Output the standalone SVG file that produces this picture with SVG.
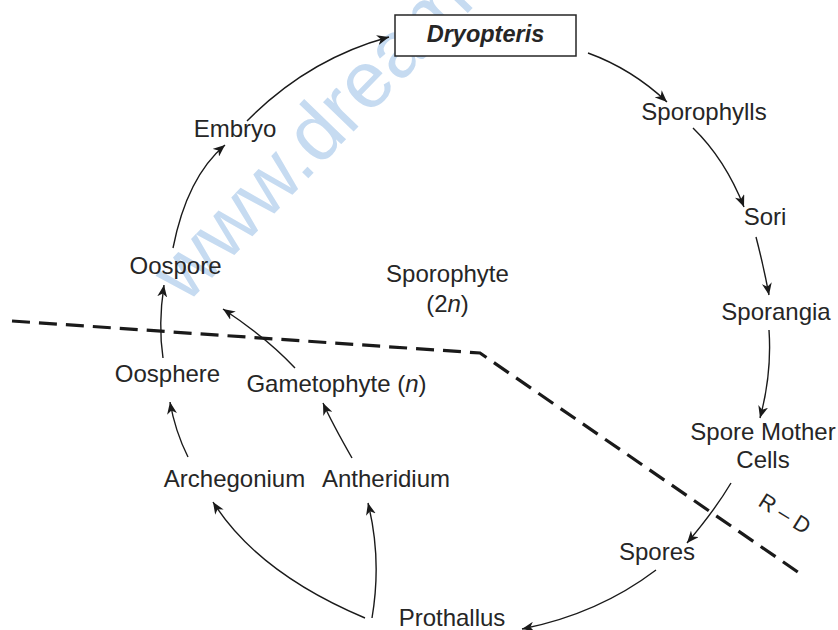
<svg xmlns="http://www.w3.org/2000/svg" width="838" height="630" viewBox="0 0 838 630">
<style>
.lbl{font-family:"Liberation Sans",Arial,sans-serif;font-size:24px;fill:#262626;text-anchor:middle}
.conn{fill:none;stroke:#1a1a1a;stroke-width:1.4;marker-end:url(#ah)}
.dash{fill:none;stroke:#1a1a1a;stroke-width:3.2;stroke-dasharray:18 9}
.wm{font-family:"Liberation Sans",Arial,sans-serif;font-size:80px;fill:#c6dbf1}
</style>
<defs>
<marker id="ah" markerUnits="userSpaceOnUse" markerWidth="12" markerHeight="10" viewBox="0 0 12 10" refX="12" refY="5" orient="auto">
<path d="M0,0 L12,5 L0,10 L3.5,5 z" fill="#1a1a1a"/>
</marker>
</defs>
<rect width="838" height="630" fill="#ffffff"/>
<text class="wm" x="186" y="305" transform="rotate(-46 186 305)">www.dream</text>

<g id="boundary">
<path class="dash" d="M12,321 L480,353 L805,577"/>
</g>

<g id="connectors">
<path class="conn" d="M247,121 Q308,59 389,37"/>
<path class="conn" d="M173,248 Q187,177 225,145"/>
<path class="conn" d="M163,358 Q158,325 164,285"/>
<path class="conn" d="M295,368 Q267,338 223,309"/>
<path class="conn" d="M188,457 Q175,431 170,402"/>
<path class="conn" d="M352,458 Q332,423 323,403"/>
<path class="conn" d="M365,618 Q258,573 213,502"/>
<path class="conn" d="M372,618 Q382,559 368,503"/>
<path class="conn" d="M588,53 Q632,69 667,102"/>
<path class="conn" d="M693,128 Q725,159 744,207"/>
<path class="conn" d="M756,237 Q764,268 769,295"/>
<path class="conn" d="M769,330 Q772,374 760,418"/>
<path class="conn" d="M731,483 Q715,510 687,543"/>
<path class="conn" d="M656,570 Q598,614 522,629"/>
</g>

<g id="dryopteris">
<rect x="395" y="15" width="181" height="41" fill="#ffffff" stroke="#262626" stroke-width="1.5"/>
<text class="lbl" x="485.5" y="42" style="font-weight:bold;font-style:italic;font-size:23.5px">Dryopteris</text>
</g>
<g id="sporophylls"><text class="lbl" x="704" y="120">Sporophylls</text></g>
<g id="sori"><text class="lbl" x="765" y="225">Sori</text></g>
<g id="sporangia"><text class="lbl" x="776" y="320">Sporangia</text></g>
<g id="spore-mother-cells"><text class="lbl" x="763" y="440">Spore Mother</text><text class="lbl" x="763" y="468">Cells</text></g>
<g id="spores"><text class="lbl" x="657" y="560">Spores</text></g>
<g id="prothallus"><text class="lbl" x="452" y="626">Prothallus</text></g>
<g id="archegonium"><text class="lbl" x="234.5" y="487">Archegonium</text></g>
<g id="antheridium"><text class="lbl" x="386" y="487">Antheridium</text></g>
<g id="oosphere"><text class="lbl" x="167.5" y="382">Oosphere</text></g>
<g id="gametophyte"><text class="lbl" x="336.5" y="392">Gametophyte (<tspan font-style="italic">n</tspan>)</text></g>
<g id="oospore"><text class="lbl" x="175.5" y="274">Oospore</text></g>
<g id="embryo"><text class="lbl" x="235" y="137">Embryo</text></g>
<g id="sporophyte"><text class="lbl" x="447.5" y="282">Sporophyte</text><text class="lbl" x="447.5" y="312">(2<tspan font-style="italic">n</tspan>)</text></g>
<g id="rd-label"><text class="lbl" x="757" y="505" transform="rotate(32 757 505)" style="text-anchor:start;font-size:22px">R – D</text></g>
</svg>
